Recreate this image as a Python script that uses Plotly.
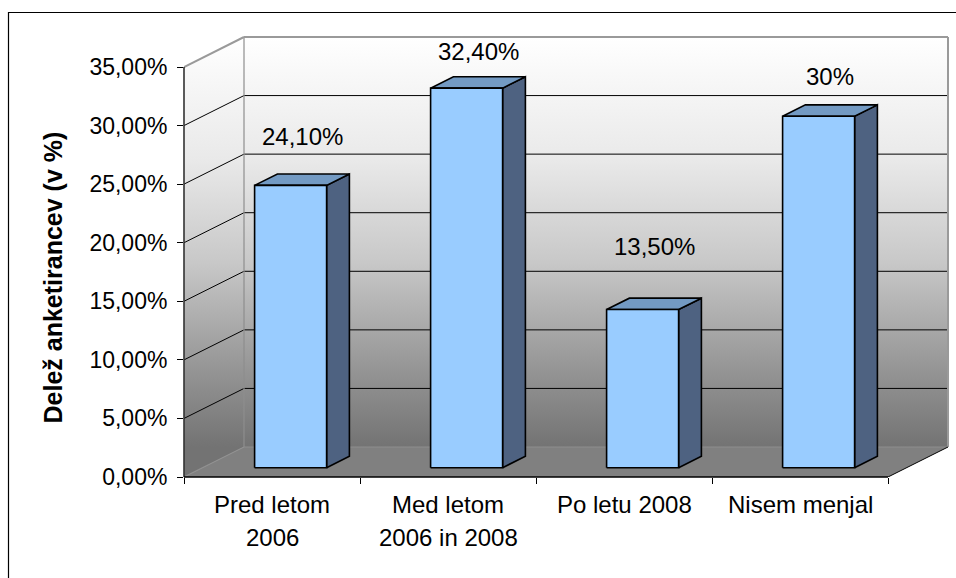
import plotly.graph_objects as go

# ---------------- data ----------------
categories = ["Pred letom<br>2006", "Med letom<br>2006 in 2008", "Po letu 2008", "Nisem menjal"]
values = [24.1, 32.4, 13.5, 30.0]
value_labels = ["24,10%", "32,40%", "13,50%", "30%"]
y_tick_values = [0, 5, 10, 15, 20, 25, 30, 35]
y_tick_labels = ["0,00%", "5,00%", "10,00%", "15,00%", "20,00%", "25,00%", "30,00%", "35,00%"]
y_title = "Delež anketirancev (v %)"

# ---------------- geometry / style ----------------
W, H = 956, 578
ML, MR, MT, MB = 184, 4, 33, 101
PAD = 4                     # px of room right/top so wall borders are not clipped
DX_PX, DY_PX = 60, 30       # 3D depth of the chart in pixels
PLOT_W = W - ML - MR
PLOT_H = H - MT - MB
YMAX = 35
CAT_PX = (PLOT_W - PAD - DX_PX) / len(categories)
PCT_PX = (PLOT_H - PAD - DY_PX) / YMAX
DX = DX_PX / CAT_PX          # depth in category units
DY = DY_PX / PCT_PX          # depth in percent units
BW = 72 / CAT_PX             # bar width
F0, F1 = 0.31, 0.69          # bar front/back depth fractions
LABEL_BASE, LABEL_GAIN = 7.8, 0.881   # label placement (Excel perspective)

FONT = "Liberation Sans, Arial, sans-serif"
FRONT_C, SIDE_C, TOP_C = "#99CCFF", "#4E6281", "#739AC3"
FLOOR_C = "#808080"
WALL_SCALE = [[0, "#737373"], [0.2, "#979797"], [0.45, "#c8c8c8"], [0.7, "#e9e9e9"], [1, "#ffffff"]]

xmin, xmax = -0.5, len(categories) - 0.5


def P(x, y, f):
    return x + f * DX, y + f * DY


def poly(pts, **kw):
    xs = [p[0] for p in pts] + [pts[0][0]]
    ys = [p[1] for p in pts] + [pts[0][1]]
    return go.Scatter(x=xs, y=ys, mode="lines", fill="toself", hoverinfo="skip",
                      showlegend=False, **kw)


def segs(pairs, color, width):
    xs, ys = [], []
    for a, b in pairs:
        xs += [a[0], b[0], None]
        ys += [a[1], b[1], None]
    return go.Scatter(x=xs, y=ys, mode="lines", line=dict(color=color, width=width),
                      hoverinfo="skip", showlegend=False)


fig = go.Figure()

grad = dict(type="vertical", colorscale=WALL_SCALE, start=DY, stop=YMAX + DY)
# back wall
fig.add_trace(poly([P(xmin, 0, 1), P(xmax, 0, 1), P(xmax, YMAX, 1), P(xmin, YMAX, 1)],
                   line=dict(width=0), fillgradient=grad))
# side wall
fig.add_trace(poly([P(xmin, 0, 0), P(xmin, 0, 1), P(xmin, YMAX, 1), P(xmin, YMAX, 0)],
                   line=dict(width=0), fillgradient=grad))
# floor
fig.add_trace(poly([P(xmin, 0, 0), P(xmax, 0, 0), P(xmax, 0, 1), P(xmin, 0, 1)],
                   line=dict(width=0), fillcolor=FLOOR_C))

# gridlines
grid_vals = [v for v in y_tick_values if 0 < v < YMAX]
fig.add_trace(segs([(P(xmin, v, 1), P(xmax, v, 1)) for v in grid_vals] +
                   [(P(xmin, v, 0), P(xmin, v, 1)) for v in grid_vals], "#000000", 1))
# light edges of walls
fig.add_trace(segs([(P(xmin, 0, 1), P(xmax, 0, 1)), (P(xmin, 0, 0), P(xmin, 0, 1)),
                    (P(xmin, 0, 1), P(xmin, YMAX, 1))], "#8e8e8e", 1.2))
# wall outline (top + right)
fig.add_trace(segs([(P(xmin, YMAX, 0), P(xmin, YMAX, 1)), (P(xmin, YMAX, 1), P(xmax, YMAX, 1)),
                    (P(xmax, YMAX, 1), P(xmax, 0, 1))], "#9a9a9a", 2))
# floor right edge
fig.add_trace(segs([(P(xmax, 0, 0), P(xmax, 0, 1))], "#000000", 1))

# bars
outline = dict(color="#000000", width=1.6)
for i, v in enumerate(values):
    x0, x1 = i - BW / 2, i + BW / 2
    fig.add_trace(poly([P(x1, 0, F0), P(x1, 0, F1), P(x1, v, F1), P(x1, v, F0)],
                       line=outline, fillcolor=SIDE_C))
    fig.add_trace(poly([P(x0, v, F0), P(x1, v, F0), P(x1, v, F1), P(x0, v, F1)],
                       line=outline, fillcolor=TOP_C))
    fig.add_trace(poly([P(x0, 0, F0), P(x1, 0, F0), P(x1, v, F0), P(x0, v, F0)],
                       line=outline, fillcolor=FRONT_C))

annotations = []
# data labels
for i, (v, t) in enumerate(zip(values, value_labels)):
    annotations.append(dict(x=i + (F0 + F1) / 2 * DX, y=LABEL_BASE + LABEL_GAIN * v,
                            xref="x", yref="y", text=t, showarrow=False,
                            xanchor="center", yanchor="middle",
                            font=dict(family=FONT, size=24, color="#000000")))
# category labels
line_shifts = [-27, -60.5]
for i, c in enumerate(categories):
    for j, part in enumerate(c.split("<br>")):
        annotations.append(dict(x=i, y=0, xref="x", yref="y", text=part, showarrow=False,
                                xanchor="center", yanchor="middle", yshift=line_shifts[j],
                                font=dict(family=FONT, size=24, color="#000000")))
# y axis title
annotations.append(dict(x=(52.5 - ML) / PLOT_W, y=(H - MB - 278) / PLOT_H, xref="paper", yref="paper",
                        text="<b>" + y_title + "</b>", textangle=-90, showarrow=False,
                        xanchor="center", yanchor="middle",
                        font=dict(family=FONT, size=25, color="#000000")))

shapes = [
    # y axis line
    dict(type="line", xref="paper", yref="y", x0=0, x1=0, y0=0, y1=YMAX,
         line=dict(color="#333333", width=1.6)),
    # x axis line
    dict(type="line", xref="x", yref="paper", x0=xmin, x1=xmax, y0=0, y1=0,
         line=dict(color="#000000", width=1.6)),
    # outer chart border
    dict(type="rect", xref="paper", yref="paper",
         x0=(8.5 - ML) / PLOT_W, x1=(962 - ML) / PLOT_W,
         y0=(H - MB - 592) / PLOT_H, y1=(H - MB - 12.5) / PLOT_H,
         line=dict(color="#000000", width=1.2), fillcolor="rgba(0,0,0,0)", layer="below"),
]

fig.update_layout(
    width=W, height=H,
    margin=dict(l=ML, r=MR, t=MT, b=MB, pad=0),
    paper_bgcolor="#ffffff", plot_bgcolor="#ffffff",
    showlegend=False,
    annotations=annotations,
    shapes=shapes,
    xaxis=dict(range=[xmin, xmax + DX + PAD / CAT_PX], showgrid=False, zeroline=False,
               showline=False, tickmode="array",
               tickvals=[xmin + k for k in range(len(categories) + 1)],
               showticklabels=False, ticks="outside", ticklen=6, tickwidth=1.2,
               tickcolor="#000000", fixedrange=True),
    yaxis=dict(range=[0, YMAX + DY + PAD / PCT_PX], showgrid=False, zeroline=False,
               showline=False, tickmode="array", tickvals=y_tick_values,
               ticktext=y_tick_labels, ticks="outside", ticklen=6, tickwidth=1.2,
               tickcolor="#000000", tickfont=dict(family=FONT, size=23, color="#000000"),
               ticklabelstandoff=5, fixedrange=True),
)

fig.write_html("out.html")
